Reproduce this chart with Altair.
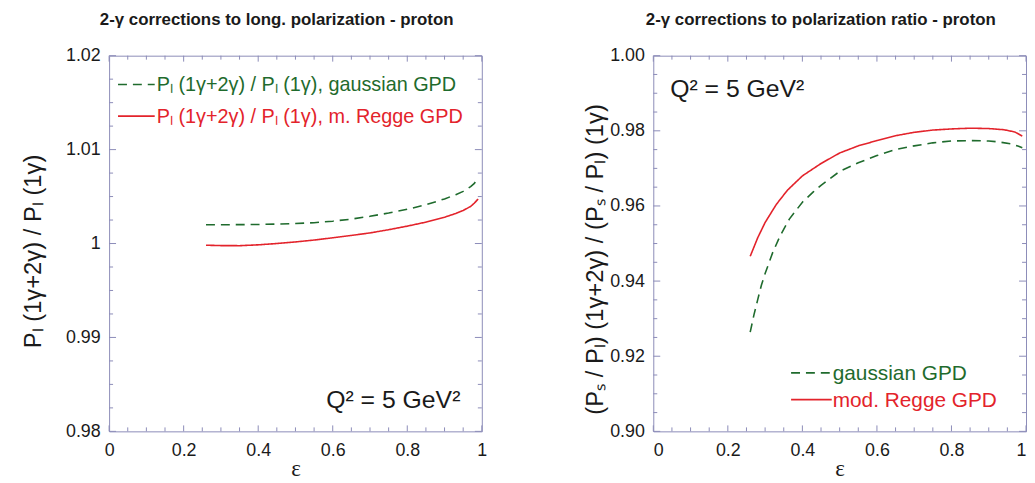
import altair as alt
import pandas as pd

# ---------------- data ----------------
# Left panel: P_l(1g+2g)/P_l(1g)
left_eps = [0.26, 0.30, 0.35, 0.40, 0.45, 0.50, 0.55, 0.60, 0.65, 0.70,
            0.75, 0.80, 0.85, 0.90, 0.93, 0.95, 0.97, 0.98, 0.99]
left_gauss = [1.00200, 1.00200, 1.00201, 1.00203, 1.00207, 1.00213, 1.00222,
              1.00238, 1.00260, 1.00290, 1.00325, 1.00365, 1.00412, 1.00475,
              1.00520, 1.00555, 1.00605, 1.00640, 1.00700]
left_regge = [0.99982, 0.99978, 0.99977, 0.99986, 1.00000, 1.00017, 1.00037,
              1.00061, 1.00086, 1.00113, 1.00147, 1.00185, 1.00228, 1.00280,
              1.00320, 1.00352, 1.00395, 1.00430, 1.00474]

# Right panel: polarization ratio
right_gauss_eps = [0.26, 0.27, 0.28, 0.29, 0.30, 0.32, 0.34, 0.365, 0.40, 0.43,
                   0.45, 0.50, 0.55, 0.60, 0.65, 0.70, 0.75, 0.80, 0.85, 0.90,
                   0.93, 0.96, 0.98, 0.99]
right_gauss = [0.9264, 0.9310, 0.9350, 0.9389, 0.9420, 0.9475, 0.9520, 0.9565,
               0.9610, 0.9638, 0.9655, 0.9692, 0.9715, 0.9734, 0.9750, 0.9760,
               0.9768, 0.9773, 0.9774, 0.9773, 0.9770, 0.9765, 0.9759, 0.9755]
right_regge_eps = [0.26, 0.28, 0.30, 0.33, 0.36, 0.40, 0.45, 0.50, 0.55, 0.60,
                   0.65, 0.70, 0.75, 0.80, 0.85, 0.90, 0.94, 0.97, 0.99]
right_regge = [0.9466, 0.9515, 0.9556, 0.9604, 0.9642, 0.9680, 0.9713, 0.9741,
               0.9760, 0.9774, 0.9787, 0.9796, 0.9802, 0.9805, 0.9807, 0.9806,
               0.9803, 0.9797, 0.9786]

# ---------------- ticks ----------------
x_major = [0, 0.2, 0.4, 0.6, 0.8, 1.0]
x_minor = [0.05, 0.1, 0.15, 0.25, 0.3, 0.35, 0.45, 0.5, 0.55,
           0.65, 0.7, 0.75, 0.85, 0.9, 0.95]
left_y_major = [0.98, 0.99, 1.00, 1.01, 1.02]
left_y_minor = [0.9825, 0.985, 0.9875, 0.9925, 0.995, 0.9975,
                1.0025, 1.005, 1.0075, 1.0125, 1.015, 1.0175]
right_y_major = [0.90, 0.92, 0.94, 0.96, 0.98, 1.00]
right_y_minor = [0.905, 0.91, 0.915, 0.925, 0.93, 0.935, 0.945, 0.95, 0.955,
                 0.965, 0.97, 0.975, 0.985, 0.99, 0.995]

series_gauss = "gaussian"
series_regge = "regge"
GREEN = "#1f6b2d"
RED = "#e3232b"
FRAME = "#8c8cb8"
W, H = 376, 379

LABEL_FONT = "Liberation Sans"


def make_panel(curves, y_domain, y_major, y_minor, y_format, y_title,
               title, title_x, title_y, legend_rows, legend_pos, q2_pos,
               x_flush):
    color_scale = alt.Scale(domain=[series_gauss, series_regge], range=[GREEN, RED])
    dash_scale = alt.Scale(domain=[series_gauss, series_regge], range=[[9, 6], [1, 0]])
    xs = alt.Scale(domain=[0, 1], nice=False, zero=False)
    ys = alt.Scale(domain=y_domain, nice=False, zero=False)
    x_axis = alt.Axis(values=x_major, format="~g", title="ε",
                      ticks=False, domain=False, grid=False,
                      labelFont=LABEL_FONT, labelFontSize=18,
                      labelColor="#1a1a1a", labelPadding=10,
                      labelFlush=x_flush,
                      titleFont="Liberation Serif", titleFontSize=23,
                      titleFontWeight="normal", titleColor="#1a1a1a",
                      titlePadding=-1)
    y_axis = alt.Axis(values=y_major, format=y_format, title=y_title,
                      ticks=False, domain=False, grid=False,
                      labelFont=LABEL_FONT, labelFontSize=18,
                      labelColor="#1a1a1a", labelPadding=9,
                      titleFont=LABEL_FONT, titleFontSize=24,
                      titleFontWeight="normal", titleColor="#1a1a1a",
                      titleX=title_x, titleY=title_y)

    lines = alt.Chart(curves).mark_line(strokeWidth=1.6, clip=True).encode(
        x=alt.X("eps:Q", scale=xs, axis=x_axis),
        y=alt.Y("val:Q", scale=ys, axis=y_axis),
        color=alt.Color("series:N", scale=color_scale, legend=None),
        strokeDash=alt.StrokeDash("series:N", scale=dash_scale, legend=None),
        detail="series:N",
    )

    xt_major = pd.DataFrame({"t": x_major})
    xt_minor = pd.DataFrame({"t": x_minor})
    yt_major = pd.DataFrame({"t": y_major})
    yt_minor = pd.DataFrame({"t": y_minor})

    tick_layers = []
    for df, ln in [(xt_major, 6), (xt_minor, 4)]:
        for y0, y1 in [(H, H - ln), (0, ln)]:
            tick_layers.append(
                alt.Chart(df).mark_rule(color=FRAME, strokeWidth=1).encode(
                    x=alt.X("t:Q", scale=xs, axis=x_axis),
                    y=alt.value(y0), y2=alt.value(y1)))
    for df, ln in [(yt_major, 7), (yt_minor, 4)]:
        for x0, x1 in [(0, ln), (W, W - ln)]:
            tick_layers.append(
                alt.Chart(df).mark_rule(color=FRAME, strokeWidth=1).encode(
                    y=alt.Y("t:Q", scale=ys, axis=y_axis),
                    x=alt.value(x0), x2=alt.value(x1)))

    # legend (drawn inside the plot)
    lx0, lx1, ly0, ldy, tx, lfs = legend_pos
    leg = pd.DataFrame({
        "series": [series_gauss, series_regge],
        "label": legend_rows,
    })
    leg_layers = []
    for i, s in enumerate([series_gauss, series_regge]):
        sub = leg[leg["series"] == s]
        leg_layers.append(
            alt.Chart(sub).mark_rule(strokeWidth=1.6).encode(
                x=alt.value(lx0), x2=alt.value(lx1),
                y=alt.value(ly0 + i * ldy),
                color=alt.Color("series:N", scale=color_scale, legend=None),
                strokeDash=alt.StrokeDash("series:N", scale=dash_scale, legend=None)))
        leg_layers.append(
            alt.Chart(sub).mark_text(align="left", baseline="middle", fontSize=lfs,
                                     font=LABEL_FONT, dy=1).encode(
                x=alt.value(tx), y=alt.value(ly0 + i * ldy),
                text="label:N",
                color=alt.Color("series:N", scale=color_scale, legend=None)))

    qx, qy = q2_pos
    q2 = alt.Chart(pd.DataFrame({"t": ["Q² = 5 GeV²"]})).mark_text(
        align="left", baseline="alphabetic", fontSize=25, font=LABEL_FONT,
        color="#1a1a1a").encode(x=alt.value(qx), y=alt.value(qy), text="t:N")

    return alt.layer(lines, *tick_layers, *leg_layers, q2).properties(
        width=W, height=H,
        title=alt.TitleParams(title, fontSize=17, fontWeight="bold",
                              font=LABEL_FONT, anchor="middle", frame="group",
                              dx=-19, dy=-3, offset=15, color="#1a1a1a"))


left_df = pd.concat([
    pd.DataFrame({"eps": left_eps, "val": left_gauss, "series": series_gauss}),
    pd.DataFrame({"eps": left_eps, "val": left_regge, "series": series_regge}),
])
right_df = pd.concat([
    pd.DataFrame({"eps": right_gauss_eps, "val": right_gauss, "series": series_gauss}),
    pd.DataFrame({"eps": right_regge_eps, "val": right_regge, "series": series_regge}),
])

left = make_panel(
    left_df, [0.98, 1.02], left_y_major, left_y_minor, "~g",
    "Pₗ (1γ+2γ) / Pₗ (1γ)",
    "2-γ corrections to long. polarization - proton", -64, 197,
    ["Pₗ (1γ+2γ) / Pₗ (1γ), gaussian GPD", "Pₗ (1γ+2γ) / Pₗ (1γ), m. Regge GPD"],
    (9, 46, 29, 32, 48, 20), (219, 355), False)

right = make_panel(
    right_df, [0.90, 1.00], right_y_major, right_y_minor, ".2f",
    "(Pₛ / Pₗ) (1γ+2γ) / (Pₛ / Pₗ) (1γ)",
    "2-γ corrections to polarization ratio - proton", -46, 205,
    ["gaussian GPD", "mod. Regge GPD"],
    (139, 180, 320, 27, 181, 21), (17, 42), True)

chart = alt.hconcat(left, right, spacing=173, bounds="flush").configure_view(
    stroke=FRAME, strokeWidth=1).properties(
    padding={"left": 13, "top": 0, "right": 0, "bottom": 0},
    background="white")

chart.save("out.html", embed_options={"renderer": "svg", "actions": False})
